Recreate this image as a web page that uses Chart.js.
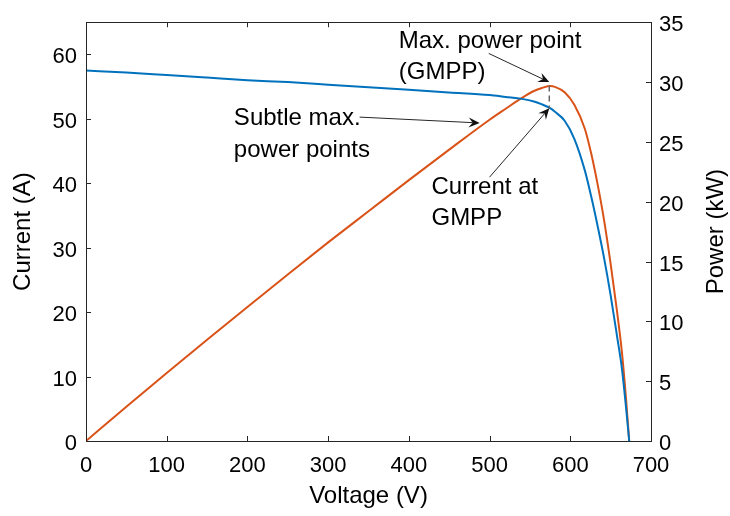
<!DOCTYPE html>
<html>
<head>
<meta charset="utf-8">
<script src="https://cdn.jsdelivr.net/npm/chart.js@4/dist/chart.umd.min.js"></script>
<style>
  body { margin: 0; background: #fff; }
</style>
</head>
<body>
<canvas id="pvCurves" width="730" height="516"></canvas>
<script>
// values
var voltage = [0, 50, 100, 150, 200, 250, 300, 350, 400, 450, 500, 520, 540, 555, 565, 575, 581, 593, 605, 618, 626, 634, 642, 650, 658, 664, 669, 673];
var current = [57.5, 57.2, 56.8, 56.4, 56.0, 55.7, 55.3, 54.9, 54.5, 54.1, 53.7, 53.4, 53.1, 52.7, 52.25, 51.65, 51.1, 49.7, 46.9, 42.0, 37.9, 33.3, 28.3, 22.6, 16.2, 11.2, 5.3, 0];
var power = [0, 2.86, 5.68, 8.46, 11.2, 13.92, 16.6, 19.2, 21.8, 24.35, 26.85, 27.77, 28.67, 29.25, 29.5, 29.67, 29.6, 29.15, 28.1, 26.1, 24.0, 21.4, 18.4, 14.8, 10.8, 7.4, 3.6, 0];

var voltageTicks = [0, 100, 200, 300, 400, 500, 600, 700];
var currentTicks = [0, 10, 20, 30, 40, 50, 60];
var powerTicks = [0, 5, 10, 15, 20, 25, 30, 35];

var gmppVoltage = 574;
var gmppPower = 29.7;
var gmppCurrent = 51.65;

var ink = "#262626";
var fontFamily = "'Liberation Sans', Arial, sans-serif";

function pts(ys) {
  return voltage.map(function (v, i) { return { x: v, y: ys[i] }; });
}

function fixTicks(list) {
  return function (scale) {
    scale.ticks = list.map(function (v) { return { value: v }; });
  };
}

// MATLAB style box, inward ticks, annotations and right label
var decorations = {
  id: "decorations",
  afterDraw: function (chart) {
    var ctx = chart.ctx;
    var a = chart.chartArea;
    var sx = chart.scales.x, sy = chart.scales.y, sp = chart.scales.y1;
    var tick = 5;

    ctx.save();
    ctx.strokeStyle = ink;
    ctx.lineWidth = 1;
    ctx.beginPath();
    voltageTicks.forEach(function (v) {
      var px = Math.round(sx.getPixelForValue(v)) + 0.5;
      ctx.moveTo(px, a.bottom); ctx.lineTo(px, a.bottom - tick);
      ctx.moveTo(px, a.top); ctx.lineTo(px, a.top + tick);
    });
    currentTicks.forEach(function (v) {
      var py = Math.round(sy.getPixelForValue(v)) + 0.5;
      ctx.moveTo(a.left, py); ctx.lineTo(a.left + tick, py);
    });
    powerTicks.forEach(function (v) {
      var py = Math.round(sp.getPixelForValue(v)) + 0.5;
      ctx.moveTo(a.right, py); ctx.lineTo(a.right - tick, py);
    });
    ctx.stroke();
    ctx.strokeRect(Math.round(a.left) + 0.5, Math.round(a.top) + 0.5,
                   Math.round(a.right - a.left), Math.round(a.bottom - a.top));

    // dashed marker between the two curves at the GMPP
    var gx = sx.getPixelForValue(gmppVoltage);
    ctx.strokeStyle = "#666";
    ctx.lineWidth = 1.5;
    ctx.setLineDash([6, 4]);
    ctx.beginPath();
    ctx.moveTo(gx, sp.getPixelForValue(gmppPower));
    ctx.lineTo(gx, sy.getPixelForValue(gmppCurrent));
    ctx.stroke();
    ctx.setLineDash([]);

    function arrow(v0, i0, v1, i1) {
      var x0 = sx.getPixelForValue(v0), y0 = sy.getPixelForValue(i0);
      var x1 = sx.getPixelForValue(v1), y1 = sy.getPixelForValue(i1);
      var ang = Math.atan2(y1 - y0, x1 - x0);
      var len = 11, half = 5, notch = 7;
      ctx.strokeStyle = ink;
      ctx.lineWidth = 1;
      ctx.beginPath();
      ctx.moveTo(x0, y0);
      ctx.lineTo(x1 - Math.cos(ang) * notch, y1 - Math.sin(ang) * notch);
      ctx.stroke();
      ctx.fillStyle = "#111";
      ctx.beginPath();
      ctx.moveTo(x1, y1);
      ctx.lineTo(x1 - Math.cos(ang) * len + Math.sin(ang) * half, y1 - Math.sin(ang) * len - Math.cos(ang) * half);
      ctx.lineTo(x1 - Math.cos(ang) * notch, y1 - Math.sin(ang) * notch);
      ctx.lineTo(x1 - Math.cos(ang) * len - Math.sin(ang) * half, y1 - Math.sin(ang) * len + Math.cos(ang) * half);
      ctx.closePath();
      ctx.fill();
    }

    function label(lines, v, i) {
      var x = sx.getPixelForValue(v), y = sy.getPixelForValue(i);
      ctx.fillStyle = "#000";
      ctx.font = "24px " + fontFamily;
      ctx.textAlign = "left";
      ctx.textBaseline = "alphabetic";
      lines.forEach(function (t, k) { ctx.fillText(t, x, y + k * 31.6); });
    }

    arrow(499, 60.15, gmppVoltage, 55.7);
    arrow(339, 50.27, 487.7, 49.36);
    arrow(500, 40.95, gmppVoltage, gmppCurrent);

    label(["Max. power point", "(GMPP)"], 387.5, 61.07);
    label(["Subtle max.", "power points"], 183.2, 49.0);
    label(["Current at", "GMPP"], 428, 38.4);

    // right axis title reads bottom to top
    ctx.fillStyle = "#000";
    ctx.font = "24px " + fontFamily;
    ctx.textAlign = "center";
    ctx.textBaseline = "middle";
    ctx.translate(716, (a.top + a.bottom) / 2);
    ctx.rotate(-Math.PI / 2);
    ctx.fillText("Power (kW)", 0, 0);
    ctx.restore();
  }
};

var tickFont = { family: fontFamily, size: 22 };
var titleFont = { family: fontFamily, size: 24 };

var ctx = document.getElementById("pvCurves").getContext("2d");
var pvChart = new Chart(ctx, {
  type: "line",
  data: {
    datasets: [{
      label: "Current",
      data: pts(current),
      yAxisID: "y",
      borderColor: "#0072BD",
      borderWidth: 2,
      pointRadius: 0,
      cubicInterpolationMode: "monotone",
      fill: false
    }, {
      label: "Power",
      data: pts(power),
      yAxisID: "y1",
      borderColor: "#D95319",
      borderWidth: 2,
      pointRadius: 0,
      cubicInterpolationMode: "monotone",
      fill: false
    }]
  },
  options: {
    responsive: false,
    animation: false,
    layout: { padding: { top: 16, left: 0, right: 0, bottom: 0 } },
    plugins: {
      legend: { display: false },
      tooltip: { enabled: false }
    },
    scales: {
      x: {
        type: "linear",
        min: 0,
        max: 700,
        afterBuildTicks: fixTicks(voltageTicks),
        afterFit: function (s) { s.height = 75; },
        grid: { display: false, drawTicks: false },
        border: { display: false },
        ticks: { font: tickFont, color: "#000", padding: 12, maxRotation: 0 },
        title: { display: true, text: "Voltage (V)", font: titleFont, color: "#000", padding: { top: 0, bottom: 5 } }
      },
      y: {
        position: "left",
        min: 0,
        max: 65,
        afterBuildTicks: fixTicks(currentTicks),
        afterFit: function (s) { s.width = 86; },
        grid: { display: false, drawTicks: false },
        border: { display: false },
        ticks: { font: tickFont, color: "#000", padding: 9, labelOffset: 3 },
        title: { display: true, text: "Current (A)", font: titleFont, color: "#000", padding: { top: 9, bottom: 0 } }
      },
      y1: {
        position: "right",
        min: 0,
        max: 35,
        afterBuildTicks: fixTicks(powerTicks),
        afterFit: function (s) { s.width = 79; },
        grid: { display: false, drawTicks: false },
        border: { display: false },
        ticks: { font: tickFont, color: "#000", padding: 8, labelOffset: 3 }
      }
    }
  },
  plugins: [decorations]
});
</script>
</body>
</html>
